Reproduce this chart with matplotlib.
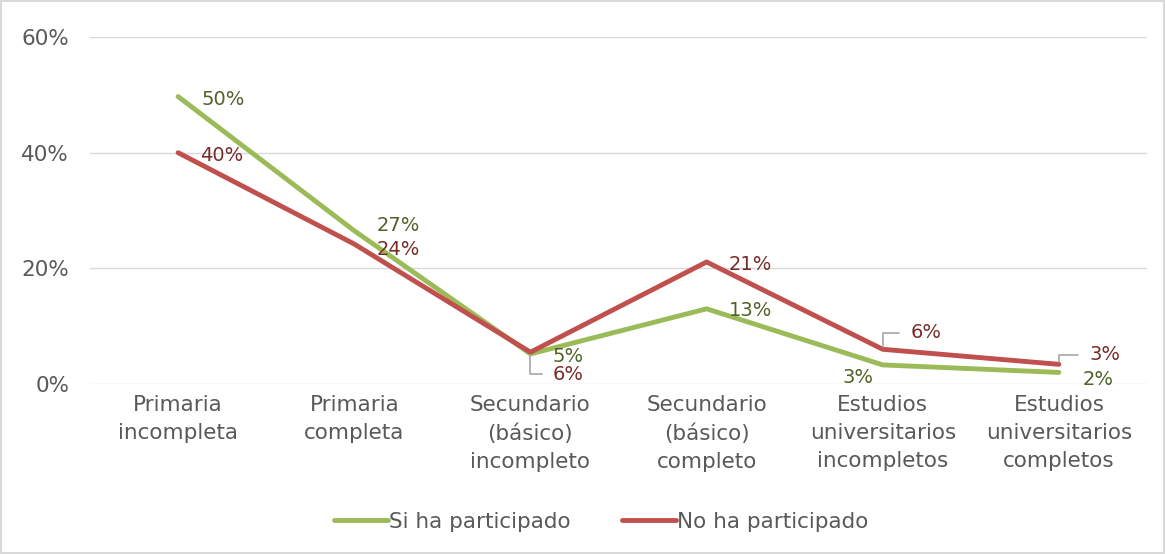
import matplotlib.pyplot as plt
from matplotlib.ticker import PercentFormatter

categories = ["Primaria\nincompleta", "Primaria\ncompleta", "Secundario\n(básico)\nincompleto",
              "Secundario\n(básico)\ncompleto", "Estudios\nuniversitarios\nincompletos",
              "Estudios\nuniversitarios\ncompletos"]
si_vals = [0.497, 0.265, 0.052, 0.13, 0.033, 0.02]
no_vals = [0.40, 0.242, 0.055, 0.211, 0.06, 0.034]
si_labels = ["50%", "27%", "5%", "13%", "3%", "2%"]
no_labels = ["40%", "24%", "6%", "21%", "6%", "3%"]

green = "#9BBB59"
red = "#C0504D"
green_txt = "#4F6228"
red_txt = "#772C2A"
txt = "#595959"

plt.rcParams["font.family"] = ["DejaVu Sans"]

fig = plt.figure(figsize=(11.65, 5.54), dpi=100)
ax = fig.add_axes([90 / 1165, 1 - 384 / 554, (1147 - 90) / 1165, (384 - 37) / 554])
fig.patch.set_edgecolor("#D9D9D9")
fig.patch.set_linewidth(1.5)

x = list(range(len(categories)))
ax.plot(x, si_vals, color=green, lw=3.5, solid_capstyle="round", label="Si ha participado", zorder=3)
ax.plot(x, no_vals, color=red, lw=3.5, solid_capstyle="round", label="No ha participado", zorder=3)

ax.set_xlim(-0.5, len(categories) - 0.5)
ax.set_ylim(0, 0.6)
ax.set_yticks([0, 0.2, 0.4, 0.6])
ax.yaxis.set_major_formatter(PercentFormatter(1.0, decimals=0))
ax.set_xticks(x)
ax.set_xticklabels(categories, linespacing=1.5)
ax.tick_params(length=0, labelsize=15.5, labelcolor=txt, pad=8)
ax.tick_params(axis="y", pad=15)
ax.grid(axis="y", color="#D9D9D9", lw=1)
ax.set_axisbelow(True)
for s in ax.spines.values():
    s.set_visible(False)

# data label offsets (points)
si_off = [(17, -2), (16, 4), (16, -2), (16, -1), (-7, -9), (17, -5)]
no_off = [(16, -2), (16, -4), (16, -16), (16, -2), (20, 12), (22, 7)]
leader_no = [False, False, True, False, True, True]

for i in x:
    ax.annotate(si_labels[i], (i, si_vals[i]), xytext=si_off[i], textcoords="offset points",
                color=green_txt, fontsize=14, ha="left" if si_off[i][0] > 0 else "right",
                va="center", zorder=4)
    if leader_no[i]:
        ax.annotate(no_labels[i], (i, no_vals[i]), xytext=no_off[i], textcoords="offset points",
                    color=red_txt, fontsize=14, ha="left", va="center", zorder=4,
                    arrowprops=dict(arrowstyle="-", color="#A6A6A6", lw=1.2,
                                    shrinkA=6, shrinkB=2,
                                    connectionstyle="angle,angleA=0,angleB=90,rad=0"))
    else:
        ax.annotate(no_labels[i], (i, no_vals[i]), xytext=no_off[i], textcoords="offset points",
                    color=red_txt, fontsize=14, ha="left", va="center", zorder=4)

leg = fig.legend(loc="center", bbox_to_anchor=(0.516, 1 - 522 / 554), ncol=2, frameon=False,
                 fontsize=15.5, handlelength=2.5, handletextpad=0.05, columnspacing=2.4)
for t in leg.get_texts():
    t.set_color(txt)

fig.savefig("out.png", dpi=100)
